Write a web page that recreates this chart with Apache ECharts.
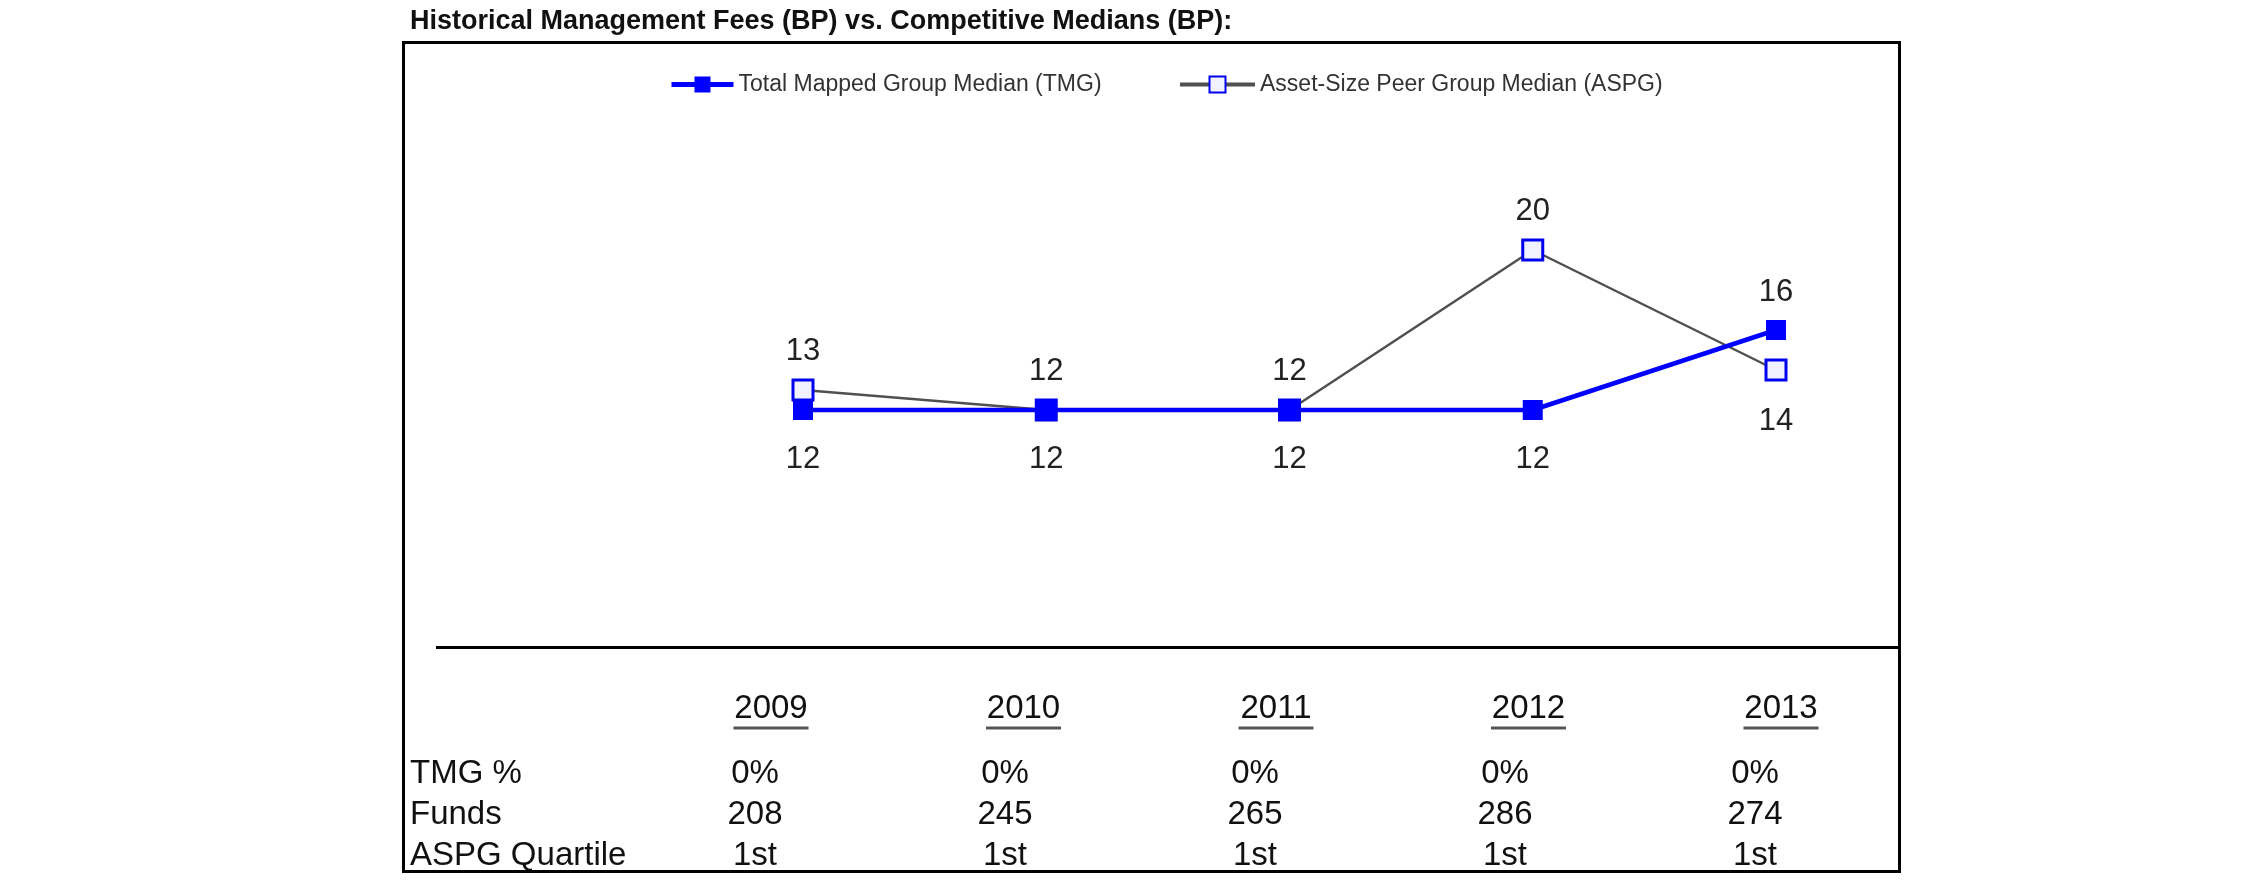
<!DOCTYPE html>
<html><head><meta charset="utf-8">
<script src="https://cdn.jsdelivr.net/npm/echarts@6/dist/echarts.min.js"></script>
<style>html,body{margin:0;padding:0;background:#fff}#c{width:2250px;height:895px}</style>
</head><body><div id="c"></div>
<script>
const titleText = 'Historical Management Fees (BP) vs. Competitive Medians (BP):';
const seriesNames = ['Total Mapped Group Median (TMG)', 'Asset-Size Peer Group Median (ASPG)'];
const years = ['2009', '2010', '2011', '2012', '2013'];
const tmgMedian = [12, 12, 12, 12, 16];
const aspgMedian = [13, 12, 12, 20, 14];
const rowLabels = ['TMG %', 'Funds', 'ASPG Quartile'];
const tmgPct = ['0%', '0%', '0%', '0%', '0%'];
const funds = [208, 245, 265, 286, 274];
const aspgQuartile = ['1st', '1st', '1st', '1st', '1st'];

const FF = '"Liberation Sans", Arial, sans-serif';
const tableRows = [tmgPct, funds, aspgQuartile];

function labelled(values, other, preferTop) {
  return values.map((v, i) => {
    const top = v > other[i] || (v === other[i] && preferTop);
    return { value: v, label: { position: top ? 'top' : 'bottom', distance: top ? 12 : 24 } };
  });
}

const tableData = [];
tableRows.forEach((row, r) => row.forEach((_, c) => tableData.push([c, r])));

const chart = echarts.init(document.getElementById('c'), null, { renderer: 'canvas' });
chart.setOption({
  animation: false,
  backgroundColor: '#fff',
  title: {
    text: titleText, left: 410, top: 8, padding: 0,
    textStyle: { fontSize: 27, fontWeight: 'bold', color: '#111', fontFamily: FF }
  },
  legend: [
    { left: 669, top: 73, padding: 0, itemWidth: 62, itemHeight: 20, data: [seriesNames[0]],
      lineStyle: { width: 5 },
      textStyle: { fontSize: 23, color: '#333', fontFamily: FF } },
    { left: 1178, top: 73, padding: 0, itemWidth: 75, itemHeight: 20, data: [seriesNames[1]],
      lineStyle: { width: 4 },
      textStyle: { fontSize: 23, color: '#333', fontFamily: FF } }
  ],
  grid: [
    { left: 803, width: 973, top: 150, height: 500 },
    { left: 630, width: 1250, top: 753, height: 123 },
    { left: 644.75, width: 1262.5, top: 640, height: 50 }
  ],
  xAxis: [
    { gridIndex: 0, type: 'category', data: years, boundaryGap: false, show: false },
    { gridIndex: 1, type: 'category', data: years, show: false },
    { gridIndex: 2, type: 'category', data: years, position: 'bottom',
      axisLine: { show: false }, axisTick: { show: false },
      axisLabel: {
        margin: 4, interval: 0,
        formatter: v => '{y|' + v + '}\n{u|}',
        rich: {
          y: { fontSize: 33, lineHeight: 30, fontFamily: FF, color: '#111', align: 'center' },
          u: { width: 75, height: 3, lineHeight: 8, backgroundColor: '#555', align: 'center' }
        }
      }
    }
  ],
  yAxis: [
    { gridIndex: 0, type: 'value', min: 0, max: 25, show: false },
    { gridIndex: 1, type: 'category', data: rowLabels, inverse: true,
      axisLine: { show: false }, axisTick: { show: false }, splitLine: { show: false },
      axisLabel: { interval: 0, align: 'left', margin: 220, fontSize: 33, color: '#111', fontFamily: FF } },
    { gridIndex: 2, type: 'value', show: false }
  ],
  graphic: [
    { type: 'rect', z: 100, silent: true, shape: { x: 403.5, y: 42.5, width: 1496, height: 829 },
      style: { fill: null, stroke: '#000', lineWidth: 3 } },
    { type: 'line', z: 100, silent: true, shape: { x1: 436, y1: 647.5, x2: 1900, y2: 647.5 },
      style: { stroke: '#000', lineWidth: 3 } }
  ],
  series: [
    {
      name: seriesNames[1], type: 'line', xAxisIndex: 0, yAxisIndex: 0,
      data: labelled(aspgMedian, tmgMedian, true),
      symbol: 'rect', symbolSize: 20,
      itemStyle: { color: '#f2f2ff', borderColor: '#0000ee', borderWidth: 3 },
      lineStyle: { color: '#505050', width: 2.5 },
      label: { show: true, fontSize: 31, color: '#222', fontFamily: FF }
    },
    {
      name: seriesNames[0], type: 'line', xAxisIndex: 0, yAxisIndex: 0,
      data: labelled(tmgMedian, aspgMedian, false),
      symbol: 'rect', symbolSize: 20,
      itemStyle: { color: '#0000ff' },
      lineStyle: { color: '#0000ff', width: 4.5 },
      label: { show: true, fontSize: 31, color: '#222', fontFamily: FF }
    },
    {
      type: 'custom', xAxisIndex: 1, yAxisIndex: 1, data: tableData,
      renderItem: (params, api) => {
        const c = api.value(0), r = api.value(1);
        const p = api.coord([c, r]);
        return { type: 'text', x: p[0], y: p[1],
          style: { text: String(tableRows[r][c]), fontSize: 33, fill: '#111', fontFamily: FF,
                   align: 'center', verticalAlign: 'middle' } };
      }
    }
  ]
});
</script></body></html>
